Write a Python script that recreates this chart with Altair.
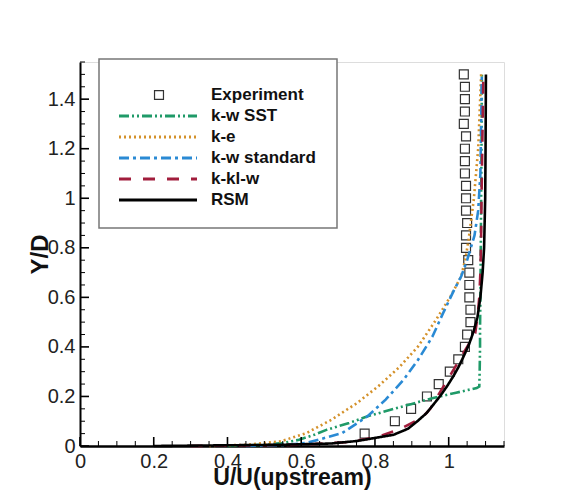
import altair as alt
import pandas as pd

# ---------------- data ----------------
exp_y = [0.05, 0.10, 0.15, 0.20, 0.25, 0.30, 0.35, 0.40, 0.45, 0.50,
         0.55, 0.60, 0.65, 0.70, 0.75, 0.80, 0.85, 0.90, 0.95, 1.00,
         1.05, 1.10, 1.15, 1.20, 1.25, 1.30, 1.35, 1.40, 1.45, 1.50]
exp_x = [0.772, 0.854, 0.898, 0.941, 0.973, 1.003, 1.026, 1.044, 1.050, 1.059,
         1.059, 1.056, 1.056, 1.056, 1.053, 1.047, 1.047, 1.050, 1.047, 1.047,
         1.047, 1.044, 1.044, 1.044, 1.047, 1.041, 1.044, 1.044, 1.044, 1.041]

sst_y = [0.0, 0.005, 0.012, 0.025, 0.045, 0.066, 0.093, 0.12, 0.145, 0.17, 0.194,
         0.215, 0.234, 0.24, 0.3, 0.4, 0.476, 0.6, 0.8, 1.0, 1.2, 1.5]
sst_x = [0.40, 0.50, 0.55, 0.594, 0.635, 0.67, 0.73, 0.78, 0.84, 0.90, 0.958,
         1.02, 1.076, 1.083, 1.084, 1.085, 1.085, 1.086, 1.087, 1.088, 1.089, 1.09]

ke_y = [0.0, 0.005, 0.019, 0.052, 0.106, 0.173, 0.241, 0.321, 0.402, 0.51,
        0.604, 0.685, 0.76, 0.833, 0.994, 1.2, 1.5]
ke_x = [0.35, 0.45, 0.545, 0.614, 0.682, 0.751, 0.809, 0.868, 0.917, 0.966,
        1.005, 1.034, 1.046, 1.054, 1.068, 1.08, 1.088]

kws_y = [0.0, 0.004, 0.012, 0.052, 0.12, 0.187, 0.268, 0.348, 0.442, 0.537,
         0.631, 0.685, 0.75, 0.85, 0.95, 1.1, 1.5]
kws_x = [0.45, 0.55, 0.614, 0.711, 0.78, 0.829, 0.878, 0.917, 0.956, 0.985,
         1.015, 1.034, 1.05, 1.07, 1.08, 1.086, 1.09]

kklw_y = [0.0, 0.005, 0.015, 0.035, 0.07, 0.113, 0.15, 0.194, 0.25, 0.3,
          0.35, 0.4, 0.456, 0.52, 0.6, 0.7, 0.85, 1.0, 1.2, 1.5]
kklw_x = [0.3, 0.6, 0.72, 0.805, 0.87, 0.927, 0.95, 0.967, 0.99, 1.01,
          1.03, 1.05, 1.072, 1.078, 1.083, 1.086, 1.088, 1.089, 1.091, 1.094]

rsm_y = [0.0, 0.005, 0.01, 0.02, 0.045, 0.07, 0.1, 0.133, 0.17, 0.2, 0.24,
         0.28, 0.32, 0.36, 0.41, 0.46, 0.52, 0.6, 0.7, 0.8, 1.0, 1.2, 1.5]
rsm_x = [0.2, 0.55, 0.68, 0.75, 0.85, 0.89, 0.915, 0.94, 0.96, 0.976, 0.995,
         1.012, 1.027, 1.04, 1.055, 1.067, 1.078, 1.086, 1.092, 1.096, 1.099, 1.1, 1.101]

model_names = ["k-w SST", "k-e", "k-w standard", "k-kl-w", "RSM"]
model_data = [(sst_x, sst_y), (ke_x, ke_y), (kws_x, kws_y), (kklw_x, kklw_y), (rsm_x, rsm_y)]
model_colors = ["#1f9a68", "#d4912a", "#2a8ad4", "#a11d3c", "#000000"]
model_dashes = [[10, 3, 2, 3, 2, 3], [2, 3], [10, 4, 3, 4], [12, 12], [1, 0]]

x_labels = [0, 0.2, 0.4, 0.6, 0.8, 1.0]
y_labels = [0, 0.2, 0.4, 0.6, 0.8, 1.0, 1.2, 1.4]
x_minor = [0.05, 0.1, 0.15, 0.25, 0.3, 0.35, 0.45, 0.5, 0.55, 0.65, 0.7, 0.75,
           0.85, 0.9, 0.95, 1.05, 1.1, 1.15]
y_minor = [0.05, 0.1, 0.15, 0.25, 0.3, 0.35, 0.45, 0.5, 0.55, 0.65, 0.7, 0.75,
           0.85, 0.9, 0.95, 1.05, 1.1, 1.15, 1.25, 1.3, 1.35, 1.45, 1.5, 1.55]

# ---------------- layout ----------------
W, H = 424, 384
XDOM = [0, 1.15]
YDOM = [0, 1.55]
FONT = "Liberation Sans"

xs = alt.Scale(domain=XDOM, nice=False, zero=False)
ys = alt.Scale(domain=YDOM, nice=False, zero=False)

xaxis = alt.Axis(values=x_labels, format=".1~f", title="U/U(upstream)", ticks=False,
                 grid=False, domainColor="black", domainWidth=2.5,
                 labelFont=FONT, labelFontSize=20, labelColor="#222", labelPadding=5,
                 titleFont=FONT, titleFontSize=23, titleFontWeight="bold", titleColor="#111",
                 titleY=38, titleBaseline="alphabetic", labelFlush=False)
yaxis = alt.Axis(values=y_labels, format=".1~f", title="Y/D", ticks=False,
                 grid=False, domainColor="black", domainWidth=2,
                 labelFont=FONT, labelFontSize=20, labelColor="#222", labelPadding=5,
                 titleFont=FONT, titleFontSize=24, titleFontWeight="bold", titleColor="#111",
                 titleX=-33, titleY=H / 2, titleAngle=-90, titleAlign="center",
                 titleBaseline="alphabetic", labelFlush=False)

layers = []

# base layer carrying the axes (experiment squares)
exp_df = pd.DataFrame({"x": exp_x, "y": exp_y})
layers.append(
    alt.Chart(exp_df).mark_point(shape="square", filled=False, size=80,
                                 stroke="#333", strokeWidth=1.2, opacity=1)
    .encode(x=alt.X("x:Q", scale=xs, axis=xaxis), y=alt.Y("y:Q", scale=ys, axis=yaxis))
)

# model curves
for name, (mx, my), col, dash in zip(model_names, model_data, model_colors, model_dashes):
    df = pd.DataFrame({"x": mx, "y": my, "i": list(range(len(mx)))})
    layers.append(
        alt.Chart(df).mark_line(color=col, strokeDash=dash, strokeWidth=2.6)
        .encode(x=alt.X("x:Q", scale=xs), y=alt.Y("y:Q", scale=ys), order="i:Q")
    )

# inward ticks
layers.append(alt.Chart(pd.DataFrame({"v": x_labels})).mark_rule(color="black", strokeWidth=1.6)
              .encode(x=alt.X("v:Q", scale=xs), y=alt.value(H), y2=alt.value(H - 9)))
layers.append(alt.Chart(pd.DataFrame({"v": x_minor})).mark_rule(color="black", strokeWidth=1)
              .encode(x=alt.X("v:Q", scale=xs), y=alt.value(H), y2=alt.value(H - 5)))
layers.append(alt.Chart(pd.DataFrame({"v": y_labels})).mark_rule(color="black", strokeWidth=1.6)
              .encode(y=alt.Y("v:Q", scale=ys), x=alt.value(0), x2=alt.value(9)))
layers.append(alt.Chart(pd.DataFrame({"v": y_minor})).mark_rule(color="black", strokeWidth=1)
              .encode(y=alt.Y("v:Q", scale=ys), x=alt.value(0), x2=alt.value(5)))

# legend box
layers.append(alt.Chart(pd.DataFrame({"a": [0]})).mark_rect(fill="white", stroke="#777", strokeWidth=1.5)
              .encode(x=alt.value(19), x2=alt.value(257), y=alt.value(-3), y2=alt.value(166)))

legend_names = ["Experiment"] + model_names
row_y = [33, 54, 75, 96, 117, 138]
layers.append(alt.Chart(pd.DataFrame({"a": [0]})).mark_point(shape="square", filled=False, size=80,
                                                             stroke="#333", strokeWidth=1.2, opacity=1)
              .encode(x=alt.value(79), y=alt.value(row_y[0])))
for k, (col, dash) in enumerate(zip(model_colors, model_dashes)):
    layers.append(alt.Chart(pd.DataFrame({"a": [0]})).mark_rule(color=col, strokeDash=dash, strokeWidth=2.8)
                  .encode(x=alt.value(39), x2=alt.value(117), y=alt.value(row_y[k + 1])))
for k, nm in enumerate(legend_names):
    layers.append(alt.Chart(pd.DataFrame({"label": [nm]})).mark_text(
        align="left", baseline="middle", font=FONT, fontSize=17, fontWeight="bold", color="#111")
        .encode(x=alt.value(131), y=alt.value(row_y[k]), text="label:N"))

chart = alt.layer(*layers).properties(
    width=W, height=H,
    autosize=alt.AutoSizeParams(type="none"),
    padding={"left": 72, "top": 54, "right": 45, "bottom": 48},
).configure_view(stroke=None).configure(background="white")

chart.save("out.html", embed_options={"renderer": "svg", "actions": False})
